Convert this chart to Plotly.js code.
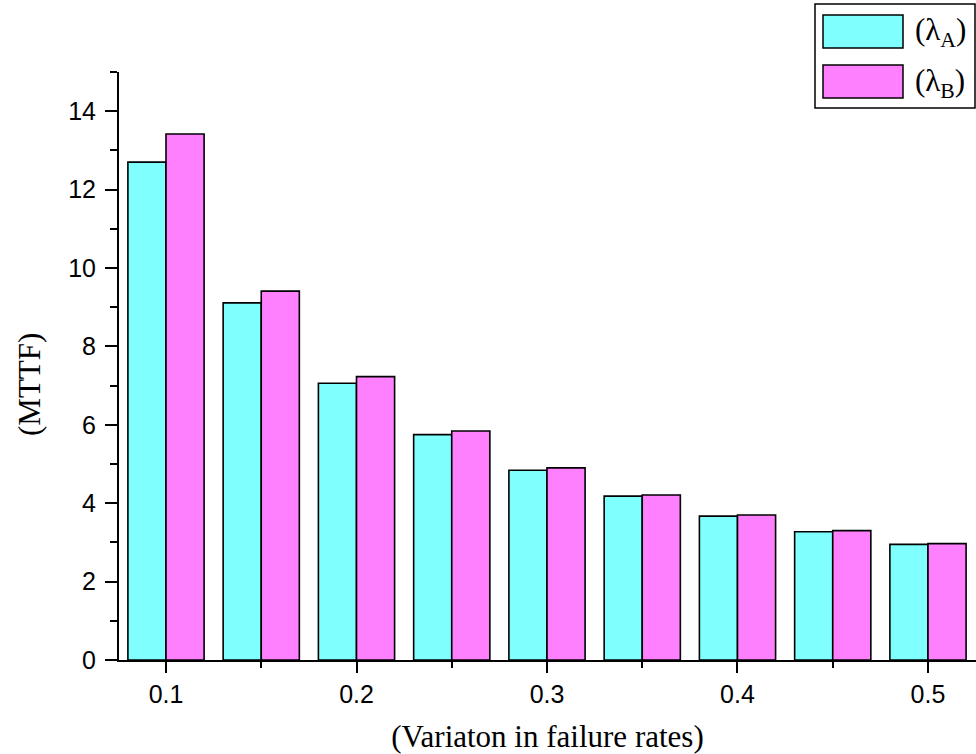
<!DOCTYPE html>
<html>
<head>
<meta charset="utf-8">
<script src="https://cdn.plot.ly/plotly-3.0.1.min.js"></script>
<style>html,body{margin:0;padding:0;background:#fff;}#chart{width:976px;height:754px;}</style>
</head>
<body>
<div id="chart"></div>
<script>
const variation = [0.1, 0.15, 0.2, 0.25, 0.3, 0.35, 0.4, 0.45, 0.5];
const mttfA = [12.70, 9.11, 7.06, 5.75, 4.84, 4.18, 3.67, 3.27, 2.95];
const mttfB = [13.42, 9.41, 7.23, 5.84, 4.90, 4.21, 3.70, 3.30, 2.97];
const seriesNames = ['(λ<sub>A</sub>)', '(λ<sub>B</sub>)'];
const seriesColors = ['#80FFFF', '#FF80FF'];
const xTickVals = [0.1, 0.2, 0.3, 0.4, 0.5];
const xTickText = ['0.1', '0.2', '0.3', '0.4', '0.5'];
const yTickVals = [0, 2, 4, 6, 8, 10, 12, 14];
const xTitle = '(Variaton in failure rates)';
const yTitle = '(MTTF)';

const L = 119, T = 72, PW = 857, PH = 588;
const px = x => (x - L) / PW;
const py = y => (T + PH - y) / PH;

const traces = [mttfA, mttfB].map((vals, i) => ({
  type: 'bar', x: variation, y: vals, name: seriesNames[i],
  marker: {color: seriesColors[i], line: {color: '#000', width: 1.6}},
  showlegend: false
}));

const shapes = [
  {type: 'rect', xref: 'paper', yref: 'paper', x0: px(815), x1: px(975), y0: py(108), y1: py(4),
   line: {color: '#000', width: 1.5}, fillcolor: '#fff'}
];
const annotations = [
  {xref: 'paper', yref: 'paper', x: px(29), y: py(385), xanchor: 'center', yanchor: 'middle',
   showarrow: false, textangle: -90, text: yTitle,
   font: {family: 'Liberation Serif, Times New Roman, serif', size: 31, color: '#000'}}
];
seriesColors.forEach((c, i) => {
  const top = 15 + i * 50, bot = 48 + i * 50;
  shapes.push({type: 'rect', xref: 'paper', yref: 'paper',
    x0: px(823), x1: px(903), y0: py(bot), y1: py(top),
    line: {color: '#000', width: 1.5}, fillcolor: c});
  annotations.push({xref: 'paper', yref: 'paper', x: px(913), y: py((top + bot) / 2 + 1),
    xanchor: 'left', yanchor: 'middle', showarrow: false, text: seriesNames[i],
    font: {family: 'Liberation Serif, Times New Roman, serif', size: 31, color: '#000'}});
});

const layout = {
  width: 976, height: 754,
  margin: {l: L, r: 976 - L - PW, t: T, b: 754 - T - PH},
  paper_bgcolor: '#fff', plot_bgcolor: '#fff',
  bargap: 0.2, bargroupgap: 0, barmode: 'group',
  font: {family: 'Liberation Sans, Arial, sans-serif', color: '#000'},
  xaxis: {
    range: [0.07533, 0.5252], tickvals: xTickVals, ticktext: xTickText,
    ticks: 'outside', ticklen: 11, tickwidth: 2, tickcolor: '#000',
    minor: {dtick: 0.05, tick0: 0.05, ticks: 'outside', ticklen: 6, tickwidth: 2, tickcolor: '#000'},
    showline: true, linecolor: '#000', linewidth: 2, showgrid: false, zeroline: false,
    tickfont: {size: 25, family: 'Liberation Sans, Arial, sans-serif'},
    ticklabelstandoff: 0,
    title: {text: xTitle, font: {family: 'Liberation Serif, Times New Roman, serif', size: 31}, standoff: 22}
  },
  yaxis: {
    range: [0, 15], tickvals: yTickVals,
    ticks: 'outside', ticklen: 12, tickwidth: 2, tickcolor: '#000',
    minor: {dtick: 1, tick0: 1, ticks: 'outside', ticklen: 7, tickwidth: 2, tickcolor: '#000'},
    showline: true, linecolor: '#000', linewidth: 2, showgrid: false, zeroline: false,
    tickfont: {size: 25, family: 'Liberation Sans, Arial, sans-serif'},
    ticklabelstandoff: 4
  },
  shapes: shapes, annotations: annotations
};

Plotly.newPlot('chart', traces, layout, {displayModeBar: false, staticPlot: true});
</script>
</body>
</html>
